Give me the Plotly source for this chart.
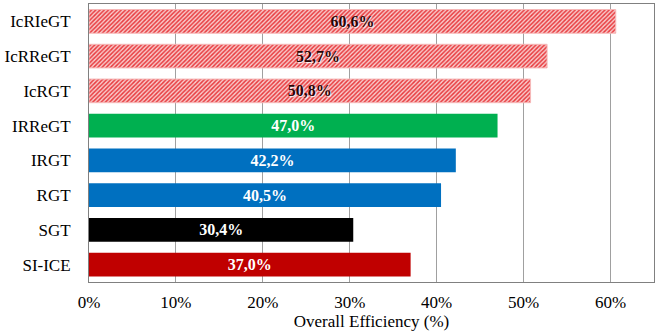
import plotly.graph_objects as go

categories = ["SI-ICE", "SGT", "RGT", "IRGT", "IRReGT", "IcRGT", "IcRReGT", "IcRIeGT"]
values = [37.0, 30.4, 40.5, 42.2, 47.0, 50.8, 52.7, 60.6]
colors = ["#c00000", "#000000", "#0070c0", "#0070c0", "#00b050", "#f9caca", "#f9caca", "#f9caca"]
hatched = [False, False, False, False, False, True, True, True]
labels = [f"{v:.1f}%".replace(".", ",") for v in values]
xticks = [0, 10, 20, 30, 40, 50, 60]

solid_idx = [i for i, h in enumerate(hatched) if not h]
hatch_idx = [i for i, h in enumerate(hatched) if h]

fig = go.Figure()
fig.add_trace(go.Bar(
    y=[categories[i] for i in solid_idx], x=[values[i] for i in solid_idx], orientation="h",
    marker=dict(color=[colors[i] for i in solid_idx], line=dict(width=0)),
    text=[labels[i] for i in solid_idx], textposition="inside", insidetextanchor="middle",
    textfont=dict(family="Liberation Serif", size=16, weight="bold", color="#ffffff"),
    cliponaxis=False, width=0.68,
))
fig.add_trace(go.Bar(
    y=[categories[i] for i in hatch_idx], x=[values[i] for i in hatch_idx], orientation="h",
    marker=dict(
        color="#f9caca",
        line=dict(color="#f6b8b8", width=1),
        pattern=dict(shape="/", fgcolor="#e83a3e", bgcolor="#f9cccc",
                     fillmode="replace", fgopacity=1, size=3, solidity=0.5),
    ),
    text=[labels[i] for i in hatch_idx], textposition="inside", insidetextanchor="middle",
    textfont=dict(family="Liberation Serif", size=16, weight="bold", color="#2a0505",
                  shadow="1px 1px 1px #ffffff"),
    cliponaxis=False, width=0.68,
))

fig.update_layout(
    width=659, height=333,
    margin=dict(l=89, r=5, t=4, b=51),
    plot_bgcolor="white", paper_bgcolor="white",
    font=dict(family="Liberation Serif", size=17, color="#000000"),
    showlegend=False, barmode="overlay",
)
fig.update_xaxes(
    range=[0, 65], tickvals=xticks, ticktext=[f"{t}%" for t in xticks],
    showgrid=True, gridcolor="#a0a0a0", gridwidth=1,
    showline=True, linecolor="#808080", mirror=True, linewidth=1,
    ticks="", zeroline=False, tickfont=dict(size=17), ticklabelstandoff=5,
    title=dict(text="Overall Efficiency (%)", font=dict(size=17), standoff=3),
)
fig.update_yaxes(
    categoryorder="array", categoryarray=categories,
    showline=True, linecolor="#808080", mirror=True, linewidth=1,
    ticks="", tickfont=dict(size=17), ticklabelstandoff=14,
)
fig.write_html("out.html")
